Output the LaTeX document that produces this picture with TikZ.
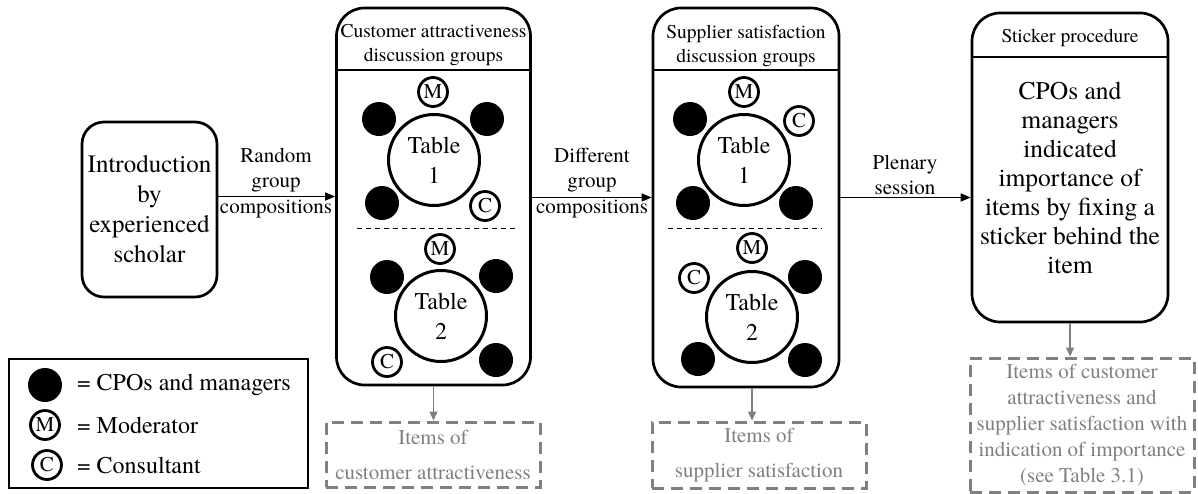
\documentclass[tikz,border=0pt]{standalone}
\usepackage{fontspec}
\setmainfont{TeX Gyre Termes}
\usetikzlibrary{arrows.meta}
\newcommand{\bigtx}   {\fontsize{25}{30}\selectfont}
\newcommand{\midtx}   {\fontsize{21}{25.5}\selectfont}
\newcommand{\headtx}  {\fontsize{19.5}{24}\selectfont}

\begin{document}
\begin{tikzpicture}[x=1pt,y=-1pt,
  box/.style={draw,line width=2.7pt,rounded corners=28pt,inner sep=2pt},
  head/.style={align=center,font=\headtx,inner sep=0pt},
  lab/.style={align=center,font=\midtx,inner sep=0pt},
  arr/.style={line width=1.5pt,-{Triangle[length=10pt,width=8pt]}},
  garr/.style={gray,line width=1.5pt,-{Triangle[length=9pt,width=8pt]}},
  gbox/.style={draw=gray,line width=3pt,dash pattern=on 12pt off 7pt,text=gray,
    align=center,font=\fontsize{21}{26}\selectfont,inner sep=0pt},
  tab/.style={circle,draw,line width=3pt,minimum size=91pt,inner sep=0pt,
    align=center,font=\fontsize{24}{30}\selectfont},
  cpo/.style={circle,fill,minimum size=34pt,inner sep=0pt},
  role/.style={circle,draw,line width=2.8pt,minimum size=29pt,inner sep=0pt,
    font=\fontsize{21}{21}\selectfont},
  sep/.style={line width=1pt,dash pattern=on 5pt off 4pt}]
  \useasboundingbox (0,0) rectangle (1198,493);

  % introduction
  \node[box,rounded corners=22pt,minimum width=135pt,minimum height=175pt,
    align=center,font=\bigtx] (intro) at (149.5,209.5)
    {Introduction\\by\\experienced\\scholar};

  % customer attractiveness groups
  \node[box,minimum width=194pt,minimum height=377pt] (cust) at (433.5,196.5) {};
  \draw[line width=1.8pt] (cust.west |- 0,70) -- (cust.east |- 0,70);
  \node[head] (custhead) at (433.5,45) {Customer attractiveness\\discussion groups};
  \draw[sep] (357,228) -- (517,228);
  \node[tab] (ct1) at (434,160) {Table\\1};
  \node[role] (ct1m) at (433,92) {M};
  \node[cpo] (ct1a) at (379,119) {};
  \node[cpo] (ct1b) at (487,119) {};
  \node[cpo] (ct1c) at (382,203) {};
  \node[role] (ct1k) at (485,206) {C};
  \node[tab] (ct2) at (441,316) {Table\\2};
  \node[role] (ct2m) at (440,249) {M};
  \node[cpo] (ct2a) at (387,277) {};
  \node[cpo] (ct2b) at (496,276) {};
  \node[role] (ct2k) at (387,362) {C};
  \node[cpo] (ct2c) at (496,360) {};

  % supplier satisfaction groups
  \node[box,minimum width=186pt,minimum height=379pt] (sat) at (746,197.5) {};
  \draw[line width=1.8pt] (sat.west |- 0,70) -- (sat.east |- 0,70);
  \node[head] (sathead) at (746,46) {Supplier satisfaction\\discussion groups};
  \draw[sep] (668,228) -- (822,228);
  \node[tab] (st1) at (744,160) {Table\\1};
  \node[role] (st1m) at (744,92) {M};
  \node[cpo] (st1a) at (690,119) {};
  \node[role] (st1k) at (799,121) {C};
  \node[cpo] (st1b) at (693,203) {};
  \node[cpo] (st1c) at (796,203) {};
  \node[tab] (st2) at (752,317) {Table\\2};
  \node[role] (st2m) at (752,248) {M};
  \node[role] (st2k) at (694,278) {C};
  \node[cpo] (st2a) at (805,277) {};
  \node[cpo] (st2b) at (698,359) {};
  \node[cpo] (st2c) at (805,360) {};

  % sticker procedure
  \node[box,minimum width=196pt,minimum height=309pt] (stick) at (1070,167.5) {};
  \draw[line width=1.8pt] (stick.west |- 0,57) -- (stick.east |- 0,57);
  \node[head] (stickhead) at (1070,38) {Sticker procedure};
  \node[align=center,font=\fontsize{25.5}{29}\selectfont,inner sep=0pt] (sticktext)
    at (1070,178) {CPOs and\\managers\\indicated\\importance of\\items by fixing a\\sticker behind the\\item};

  % flow
  \draw[arr] (intro.east |- cust) -- (cust.west);
  \node[lab] (lab1) at (276,183) {Random\\group\\compositions};
  \draw[arr] (cust.east |- sat) -- (sat.west);
  \node[lab] (lab2) at (592,183) {Different\\group\\compositions};
  \draw[arr] (sat.east) -- (sat.east -| stick.west);
  \node[lab] (lab3) at (905,175) {Plenary\\session};

  % outcomes
  \node[gbox,minimum width=214pt,minimum height=65pt] (custitems) at (433,454.5)
    {Items of\\[9pt]customer attractiveness};
  \node[gbox,minimum width=214pt,minimum height=66pt] (satitems) at (759,455)
    {Items of\\[9pt]supplier satisfaction};
  \node[gbox,minimum width=224pt,minimum height=134pt] (allitems) at (1082,425)
    {Items of customer\\attractiveness and\\supplier satisfaction with\\indication of importance\\(see Table 3.1)};
  \draw[garr] (cust.south) -- (cust.south |- custitems.north);
  \draw[garr] (st2 |- sat.south) -- (st2 |- satitems.north);
  \draw[garr] (stick.south) -- (stick.south |- allitems.north);

  % legend
  \node[draw,line width=2.7pt,minimum width=299pt,minimum height=129pt] (legend)
    at (158.5,423.5) {};
  \node[cpo] (legcpo) at (45,385) {};
  \node[role] (legm) at (45,425) {M};
  \node[role] (legk) at (47,465) {C};
  \node[anchor=west,inner sep=0pt,font=\fontsize{24}{24}\selectfont] (legcpotx)
    at (77,385) {= CPOs and managers};
  \node[anchor=west,inner sep=0pt,font=\fontsize{24}{24}\selectfont] (legmtx)
    at (77,425) {= Moderator};
  \node[anchor=west,inner sep=0pt,font=\fontsize{24}{24}\selectfont] (legktx)
    at (77,465) {= Consultant};
\end{tikzpicture}
\end{document}
